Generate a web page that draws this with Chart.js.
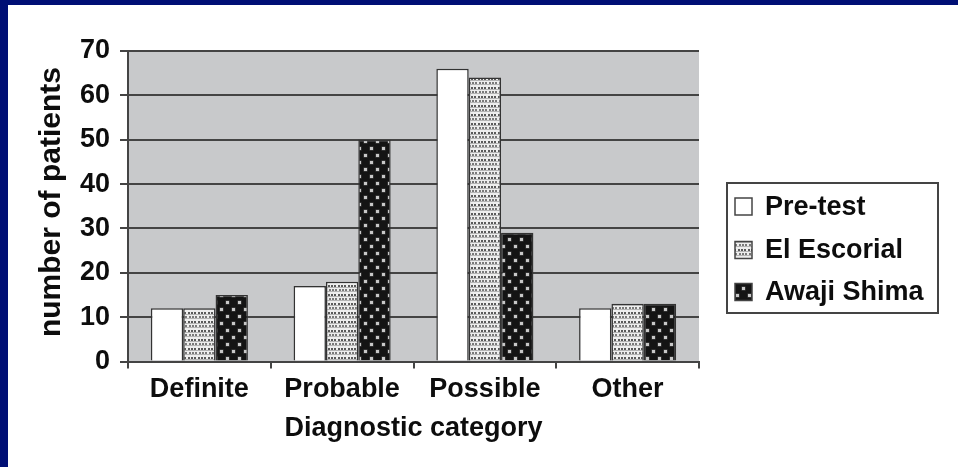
<!DOCTYPE html>
<html>
<head>
<meta charset="utf-8">
<script src="https://cdn.jsdelivr.net/npm/chart.js@4/dist/chart.umd.min.js"></script>
<style>
  html, body { margin: 0; padding: 0; background: #ffffff; }
  #frame {
    width: 958px; height: 467px; box-sizing: border-box;
    border-top: 5px solid #000f75; border-left: 8px solid #000f75;
    background: #ffffff; position: relative; overflow: hidden;
  }
  #frame canvas { display: block; }
</style>
</head>
<body>
<div id="frame"><canvas id="chart" width="950" height="462"></canvas></div>
<script>
// Diagnostic category counts per criteria set
const categories = ['Definite', 'Probable', 'Possible', 'Other'];
const preTest = [12, 17, 66, 12];
const elEscorial = [12, 18, 64, 13];
const awajiShima = [15, 50, 29, 13];
const seriesNames = ['Pre-test', 'El Escorial', 'Awaji Shima'];
const yMin = 0, yMax = 70, yStep = 10;

const FONT = "'Liberation Sans', Arial, sans-serif";
const INK = '#0d0d0d';
const LINE = '#444444';

// Fill patterns for the hatched series
function escorialPattern() {
  const c = document.createElement('canvas');
  c.width = 10; c.height = 9;
  const g = c.getContext('2d');
  g.fillStyle = '#eeeeee'; g.fillRect(0, 0, 10, 9);
  g.fillStyle = '#5a5a5a';
  [[0, 1], [3, 1], [6, 1]].forEach(([x, y]) => g.fillRect(x, y, 2, 2));
  g.fillStyle = '#7a7a7a';
  [[1, 5], [4, 5], [7, 5]].forEach(([x, y]) => g.fillRect(x, y, 2, 2));
  g.fillStyle = '#b4b4b4';
  g.fillRect(0, 3, 10, 1);
  g.fillRect(0, 7, 10, 1);
  return g.createPattern(c, 'repeat');
}
function awajiPattern() {
  const c = document.createElement('canvas');
  c.width = 12; c.height = 14;
  const g = c.getContext('2d');
  g.fillStyle = '#141414'; g.fillRect(0, 0, 12, 14);
  g.fillStyle = '#4c4c4c';
  g.fillRect(1.5, 1.5, 4, 4);
  g.fillRect(7.5, 8.5, 4, 4);
  g.fillStyle = '#c8c8c8';
  g.fillRect(2, 2, 3, 3);
  g.fillRect(8, 9, 3, 3);
  return g.createPattern(c, 'repeat');
}

const fills = ['#ffffff', escorialPattern(), awajiPattern()];
const seriesValues = [preTest, elEscorial, awajiShima];

// Grey plot background
const plotBackground = {
  id: 'plotBackground',
  beforeDraw(chart) {
    const { ctx, chartArea: a } = chart;
    ctx.save();
    ctx.fillStyle = '#c8c9cb';
    ctx.fillRect(a.left, a.top, a.right - a.left, a.bottom - a.top);
    ctx.restore();
  }
};

// Boxed legend at the right
const boxedLegend = {
  id: 'boxedLegend',
  afterDraw(chart) {
    const { ctx } = chart;
    const box = { x: 719, y: 178, w: 211, h: 130 };
    ctx.save();
    ctx.strokeStyle = LINE;
    ctx.lineWidth = 2;
    ctx.fillStyle = '#ffffff';
    ctx.fillRect(box.x, box.y, box.w, box.h);
    ctx.strokeRect(box.x, box.y, box.w, box.h);
    const rows = [201.5, 245, 287];
    chart.data.datasets.forEach((ds, i) => {
      const cy = rows[i];
      ctx.fillStyle = ds.backgroundColor;
      ctx.fillRect(727, cy - 8.5, 17, 17);
      ctx.lineWidth = 1.5;
      ctx.strokeStyle = LINE;
      ctx.strokeRect(727, cy - 8.5, 17, 17);
      ctx.fillStyle = INK;
      ctx.font = 'bold 27px ' + FONT;
      ctx.textBaseline = 'middle';
      ctx.textAlign = 'left';
      ctx.fillText(ds.label, 757, cy + 1);
    });
    ctx.restore();
  }
};

new Chart(document.getElementById('chart'), {
  type: 'bar',
  data: {
    labels: categories,
    datasets: seriesNames.map((name, i) => ({
      label: name,
      data: seriesValues[i],
      backgroundColor: fills[i],
      borderColor: '#333333',
      borderWidth: 1.5,
      categoryPercentage: 0.68,
      barPercentage: 1.0
    }))
  },
  options: {
    responsive: false,
    animation: false,
    devicePixelRatio: 1,
    layout: { padding: { top: 46, right: 259, left: 0, bottom: 0 } },
    plugins: {
      legend: { display: false },
      tooltip: { enabled: false },
      title: { display: false }
    },
    scales: {
      x: {
        afterFit(scale) { scale.height = 105.5; },
        grid: {
          drawOnChartArea: true,
          color: (c) => (c.index === 4 ? LINE : 'rgba(0,0,0,0)'),
          tickColor: LINE,
          tickLength: 7,
          lineWidth: 2
        },
        border: { display: true, color: LINE, width: 2 },
        ticks: {
          color: INK,
          padding: 5,
          font: { family: FONT, size: 27, weight: 'bold' }
        },
        title: {
          display: true,
          text: 'Diagnostic category',
          color: INK,
          padding: { top: 0, bottom: 22 },
          font: { family: FONT, size: 27, weight: 'bold' }
        }
      },
      y: {
        min: yMin,
        max: yMax,
        afterFit(scale) { scale.width = 120; },
        grid: { color: LINE, tickColor: LINE, tickLength: 8, lineWidth: 2 },
        border: { display: true, color: LINE, width: 2 },
        ticks: {
          stepSize: yStep,
          color: INK,
          padding: 10,
          font: { family: FONT, size: 27, weight: 'bold' }
        },
        title: {
          display: true,
          text: ' number of patients',
          color: INK,
          padding: { top: 26, bottom: 0 },
          font: { family: FONT, size: 30, weight: 'bold' }
        }
      }
    }
  },
  plugins: [plotBackground, boxedLegend]
});
</script>
</body>
</html>
